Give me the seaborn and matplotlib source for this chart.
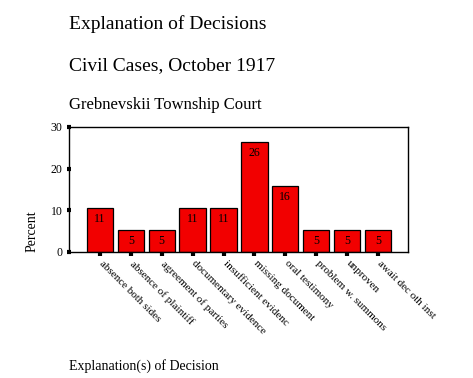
import matplotlib
matplotlib.use("Agg")
import matplotlib.pyplot as plt
import matplotlib.transforms as mtransforms
import seaborn as sns
import pandas as pd

# Datos (porcentaje de casos, 19 casos en total)
categories = [
    "absence both sides",
    "absence of plaintiff",
    "agreement of parties",
    "documentary evidence",
    "insufficient evidenc",
    "missing document",
    "oral testimony",
    "problem w. summons",
    "unproven",
    "await dec oth inst",
]
percent = [10.5, 5.3, 5.3, 10.5, 10.5, 26.3, 15.8, 5.3, 5.3, 5.3]
bar_labels = ["11", "5", "5", "11", "11", "26", "16", "5", "5", "5"]

df = pd.DataFrame({"Explanation": categories, "Percent": percent})

sns.set_style("white")
plt.rcParams["font.family"] = ["Liberation Serif", "DejaVu Serif"]
plt.rcParams["text.color"] = "black"
plt.rcParams["axes.labelcolor"] = "black"
plt.rcParams["xtick.color"] = "black"
plt.rcParams["ytick.color"] = "black"

fig = plt.figure(figsize=(4.73, 3.78), dpi=100)
ax = fig.add_axes([69 / 473, 1 - 252 / 378, (408 - 69) / 473, (252 - 127) / 378])

sns.barplot(data=df, x="Explanation", y="Percent", color="#f20000",
            saturation=1, edgecolor="black", linewidth=0.9, width=0.85, ax=ax)

ax.bar_label(ax.containers[0], labels=bar_labels, padding=-12, fontsize=8.5, color="black")

ax.set_xlim(-1, 9.97)
ax.set_ylim(0, 30)
ax.set_yticks([0, 10, 20, 30])
for s in ax.spines.values():
    s.set_color("black")
    s.set_linewidth(1)

ax.tick_params(axis="y", left=True, direction="inout", length=3, width=3,
               labelsize=8.5, pad=3, colors="black")
ax.tick_params(axis="x", bottom=True, direction="out", length=3, width=3,
               pad=2, colors="black")
ax.set_xticks(range(len(categories)))
ax.set_xticklabels(categories, rotation=-45, ha="left", va="top",
                   rotation_mode="anchor", fontsize=8)
# decalage des etiquettes vers la droite
shift = mtransforms.ScaledTranslation(4 / 100, 0, fig.dpi_scale_trans)
for lab in ax.get_xticklabels():
    lab.set_transform(lab.get_transform() + shift)
ax.set_xlabel("")
ax.set_ylabel("")

fig.text(32 / 473, 1 - 231 / 378, "Percent", rotation=90, ha="center", va="center", fontsize=10)
fig.text(69 / 473, 1 - 370 / 378, "Explanation(s) of Decision", ha="left", va="baseline", fontsize=10)

fig.text(69 / 473, 1 - 29 / 378, "Explanation of Decisions", ha="left", va="baseline", fontsize=14)
fig.text(69 / 473, 1 - 70 / 378, "Civil Cases, October 1917", ha="left", va="baseline", fontsize=14)
fig.text(69 / 473, 1 - 109 / 378, "Grebnevskii Township Court", ha="left", va="baseline", fontsize=12)

fig.savefig("out.png", dpi=100)
